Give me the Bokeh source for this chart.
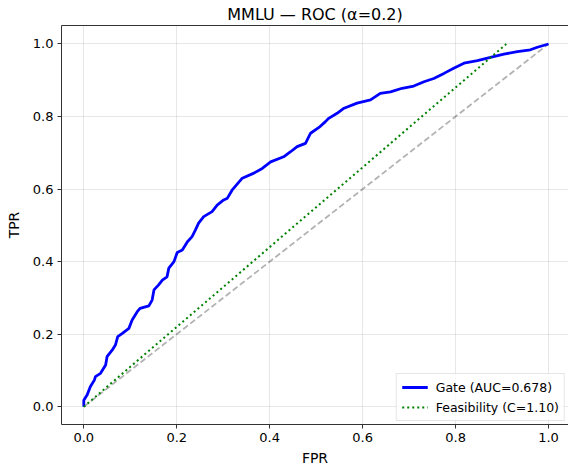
from bokeh.plotting import figure
from bokeh.models import Range1d, FixedTicker, LinearAxis, Legend, LegendItem, NumeralTickFormatter
from bokeh.embed import file_html
from bokeh.resources import INLINE

# ROC curve of the gate
gate_fpr = [0.0, 0.0, 0.007, 0.014, 0.023, 0.025, 0.036, 0.047, 0.050, 0.061, 0.068, 0.073,
            0.083, 0.097, 0.104, 0.115, 0.121, 0.140, 0.147, 0.151, 0.161, 0.169, 0.179, 0.183,
            0.194, 0.201, 0.212, 0.223, 0.233, 0.240, 0.247, 0.258, 0.276, 0.287, 0.301, 0.309,
            0.319, 0.341, 0.366, 0.384, 0.402, 0.430, 0.445, 0.459, 0.477, 0.488, 0.506, 0.520,
            0.527, 0.545, 0.560, 0.588, 0.617, 0.638, 0.660, 0.685, 0.710, 0.732, 0.753, 0.775,
            0.796, 0.818, 0.847, 0.875, 0.904, 0.933, 0.961, 0.976, 1.0]
gate_tpr = [0.0, 0.018, 0.032, 0.055, 0.074, 0.083, 0.092, 0.115, 0.138, 0.156, 0.170, 0.193,
            0.202, 0.216, 0.239, 0.262, 0.271, 0.278, 0.294, 0.322, 0.336, 0.349, 0.358, 0.382,
            0.400, 0.425, 0.432, 0.455, 0.469, 0.487, 0.506, 0.524, 0.538, 0.556, 0.570, 0.575,
            0.597, 0.630, 0.644, 0.657, 0.675, 0.689, 0.703, 0.717, 0.726, 0.754, 0.770, 0.786,
            0.795, 0.809, 0.823, 0.837, 0.846, 0.864, 0.868, 0.878, 0.884, 0.896, 0.905, 0.919,
            0.933, 0.947, 0.954, 0.963, 0.972, 0.979, 0.984, 0.991, 1.0]

# Feasibility line TPR = C * FPR, with C = 1.10
feas_fpr = [0.0, 1 / 1.10]
feas_tpr = [0.0, 1.0]

# chance diagonal
diag_fpr = [0.0, 1.0]
diag_tpr = [0.0, 1.0]

ticks = [0.0, 0.2, 0.4, 0.6, 0.8, 1.0]
gate_label = "Gate (AUC=0.678)"
feas_label = "Feasibility (C=1.10)"
title_text = "MMLU \u2014 ROC (\u03b1=0.2)"

FONT = "DejaVu Sans"

p = figure(width=568, height=468, output_backend="svg", toolbar_location=None,
           x_range=Range1d(-0.048, 1.043), y_range=Range1d(-0.049, 1.051),
           min_border_left=61, min_border_right=0, min_border_top=25, min_border_bottom=44)

p.title.text = title_text
p.title.align = "center"
p.title.text_font = FONT
p.title.text_font_size = "16px"
p.title.text_font_style = "normal"
p.title.text_color = "#000000"
p.title.standoff = 4
p.title.offset = 0

p.outline_line_color = None
p.background_fill_color = "white"
p.border_fill_color = "white"

for ax in (p.xaxis[0], p.yaxis[0]):
    ax.ticker = FixedTicker(ticks=ticks)
    ax.formatter = NumeralTickFormatter(format="0.0")
    ax.major_label_text_font = FONT
    ax.major_label_text_font_size = "13px"
    ax.major_label_text_color = "#000000"
    ax.axis_label_text_font = FONT
    ax.axis_label_text_font_size = "14px"
    ax.axis_label_text_font_style = "normal"
    ax.axis_label_text_color = "#000000"
    ax.minor_tick_line_color = None
    ax.major_tick_in = 0
    ax.major_tick_out = 4
    ax.major_tick_line_color = "#333333"
    ax.axis_line_color = "#333333"
    ax.major_label_standoff = 4

p.xaxis.axis_label = "FPR"
p.yaxis.axis_label = "TPR"
p.xaxis.axis_label_standoff = 5
p.yaxis.axis_label_standoff = 8

top = LinearAxis(ticker=FixedTicker(ticks=[]), major_label_text_font_size="0px",
                 major_tick_line_color=None, minor_tick_line_color=None,
                 axis_line_color="#333333")
p.add_layout(top, "above")

for g in (p.xgrid[0], p.ygrid[0]):
    g.ticker = FixedTicker(ticks=ticks)
    g.grid_line_color = "#b0b0b0"
    g.grid_line_alpha = 0.3

p.line(diag_fpr, diag_tpr, line_color="#000000", line_alpha=0.3, line_width=1.8, line_dash="6 3")
r_gate = p.line(gate_fpr, gate_tpr, line_color="#0000ff", line_width=2.8)
r_feas = p.line(feas_fpr, feas_tpr, line_color="#008000", line_width=2, line_dash="2 3")

legend = Legend(items=[LegendItem(label=gate_label, renderers=[r_gate]),
                       LegendItem(label=feas_label, renderers=[r_feas])],
                location="bottom_right")
legend.label_text_font = FONT
legend.label_text_font_size = "12.5px"
legend.label_text_color = "#000000"
legend.border_line_color = "#cccccc"
legend.border_line_width = 1
legend.background_fill_alpha = 0.8
legend.margin = 3
legend.padding = 5
legend.spacing = 4
legend.glyph_width = 26
legend.label_standoff = 8
legend.label_height = 16
legend.glyph_height = 16
p.add_layout(legend, "center")

open("out.html", "w").write(file_html(p, INLINE))
